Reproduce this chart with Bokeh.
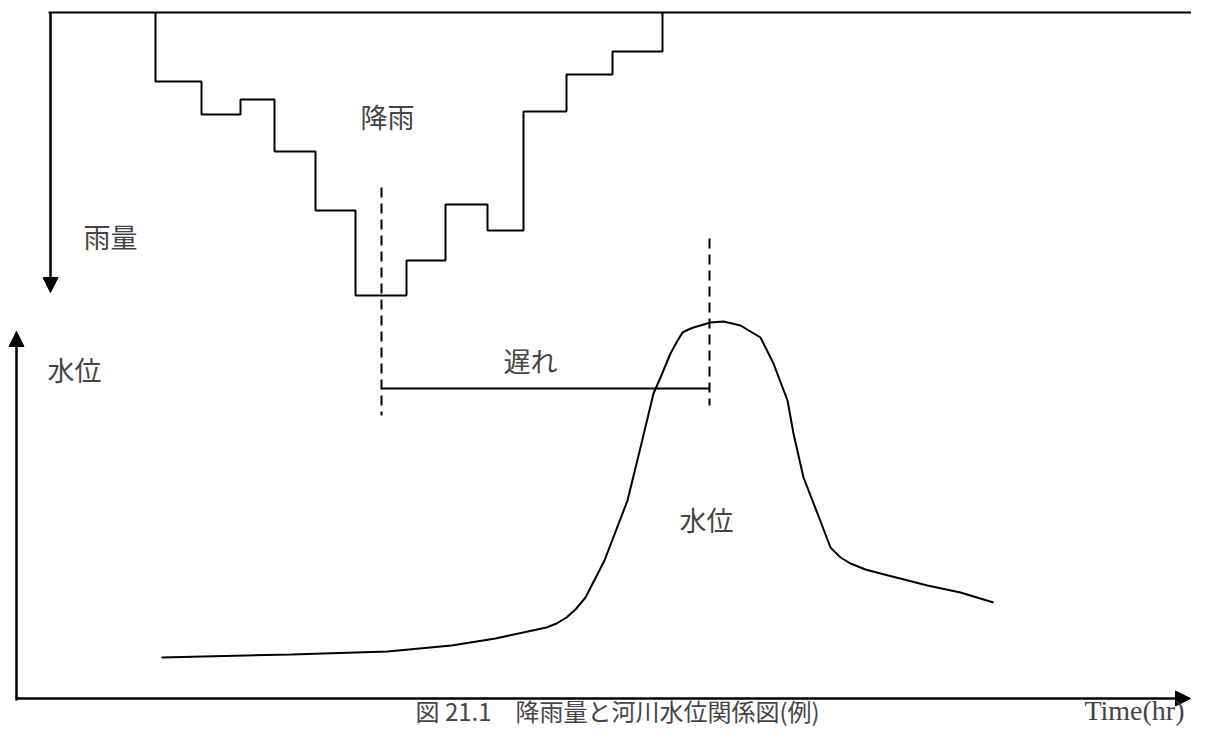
import numpy as np
from bokeh.plotting import figure
from bokeh.models import Range1d, Arrow, NormalHead, Label
from bokeh.embed import file_html
from bokeh.resources import INLINE

# ---- data ----
# rainfall hyetograph: bin edges in hours, rainfall per bin (mm, drawn downward)
rain_edges = [3.475, 4.625, 5.6, 6.45, 7.475, 8.475, 9.75, 10.725, 11.775, 12.675, 13.75, 14.9, 16.15]
rain_mm = [6.9, 10.2, 8.7, 13.9, 19.8, 28.3, 24.8, 19.2, 21.8, 9.9, 6.2, 3.9]

# river water level hydrograph
level_t = [3.625, 6.875, 9.275, 10.875, 11.975, 13.25, 13.5, 13.75, 13.975, 14.225, 14.7,
           15.275, 15.6, 15.925, 16.1, 16.35, 16.5, 16.65, 16.8, 16.925, 17.35, 17.675,
           18.1, 18.6, 18.925, 19.275, 19.425, 19.675, 20.025, 20.35, 20.6, 20.85, 21.225,
           21.6, 22.775, 23.6, 24.425]
level_m = [0.41, 0.44, 0.47, 0.53, 0.60, 0.71, 0.75, 0.81, 0.89, 1.01, 1.38,
           1.98, 2.51, 3.05, 3.21, 3.45, 3.56, 3.66, 3.69, 3.71, 3.76, 3.77,
           3.73, 3.61, 3.35, 2.98, 2.65, 2.21, 1.85, 1.51, 1.41, 1.35, 1.29,
           1.25, 1.13, 1.06, 0.96]

rain_peak_t = 9.125     # time of rainfall peak
level_peak_t = 17.325   # time of water level peak
lag_level = 3.10

labels_jp = ["降雨", "雨量", "水位", "遅れ", "水位"]
caption = "図 21.1\u3000降雨量と河川水位関係図(例)"
x_title = "Time(hr)"

FONT = "Noto Sans CJK JP"

p = figure(width=1191, height=728, x_range=Range1d(-0.4, 29.375),
           y_range=Range1d(-0.30, 6.98), output_backend="svg",
           toolbar_location=None, min_border=0, background_fill_color="white",
           border_fill_color="white")
p.extra_y_ranges = {"rain": Range1d(71.6, -1.2)}
p.xaxis.visible = False
p.yaxis.visible = False
p.grid.visible = False
p.outline_line_color = None

# rainfall step outline
xs = [rain_edges[0]]
ys = [0.0]
for i, v in enumerate(rain_mm):
    xs += [rain_edges[i], rain_edges[i + 1]]
    ys += [v, v]
xs.append(rain_edges[-1])
ys.append(0.0)
p.line(xs, ys, y_range_name="rain", line_color="black", line_width=2)

# rain baseline at top
p.line([0.8, 29.375], [0, 0], y_range_name="rain", line_color="black", line_width=2)
# rain axis arrow (downward)
p.add_layout(Arrow(end=NormalHead(size=15, fill_color="black", line_color="black"),
                   x_start=0.85, y_start=0, x_end=0.85, y_end=28.0,
                   y_range_name="rain", line_color="black", line_width=2.5))

# water level curve
p.line(level_t, level_m, line_color="black", line_width=2)

# water level axis arrow (upward)
p.add_layout(Arrow(end=NormalHead(size=15, fill_color="black", line_color="black"),
                   x_start=0, y_start=-0.02, x_end=0, y_end=3.67,
                   line_color="black", line_width=2.5))
# time axis arrow
p.add_layout(Arrow(end=NormalHead(size=15, fill_color="black", line_color="black"),
                   x_start=0, y_start=0, x_end=29.35, y_end=0,
                   line_color="black", line_width=2.5))

# dashed peak markers
p.line([rain_peak_t, rain_peak_t], [5.11, 2.83], line_color="black", line_width=2, line_dash="10 6")
p.line([level_peak_t, level_peak_t], [4.60, 2.93], line_color="black", line_width=2, line_dash="10 6")
# lag line
p.line([rain_peak_t, level_peak_t], [lag_level, lag_level], line_color="black", line_width=2)

# labels
p.add_layout(Label(x=9.275, y=10.4, y_range_name="rain", text=labels_jp[0], text_font=FONT,
                   text_font_size="27px", text_align="center", text_baseline="middle"))
p.add_layout(Label(x=2.35, y=22.4, y_range_name="rain", text=labels_jp[1], text_font=FONT,
                   text_font_size="27px", text_align="center", text_baseline="middle"))
p.add_layout(Label(x=1.45, y=3.29, text=labels_jp[2], text_font=FONT,
                   text_font_size="27px", text_align="center", text_baseline="middle"))
p.add_layout(Label(x=12.85, y=3.38, text=labels_jp[3], text_font=FONT,
                   text_font_size="27px", text_align="center", text_baseline="middle"))
p.add_layout(Label(x=17.25, y=1.79, text=labels_jp[4], text_font=FONT,
                   text_font_size="27px", text_align="center", text_baseline="middle"))
p.add_layout(Label(x=29.2, y=-0.12, text=x_title, text_font="Liberation Serif",
                   text_font_size="28px", text_align="right", text_baseline="middle"))
p.add_layout(Label(x=9.975, y=-0.12, text=caption, text_font=FONT,
                   text_font_size="24px", text_align="left", text_baseline="middle"))

open("out.html", "w").write(file_html(p, INLINE))
